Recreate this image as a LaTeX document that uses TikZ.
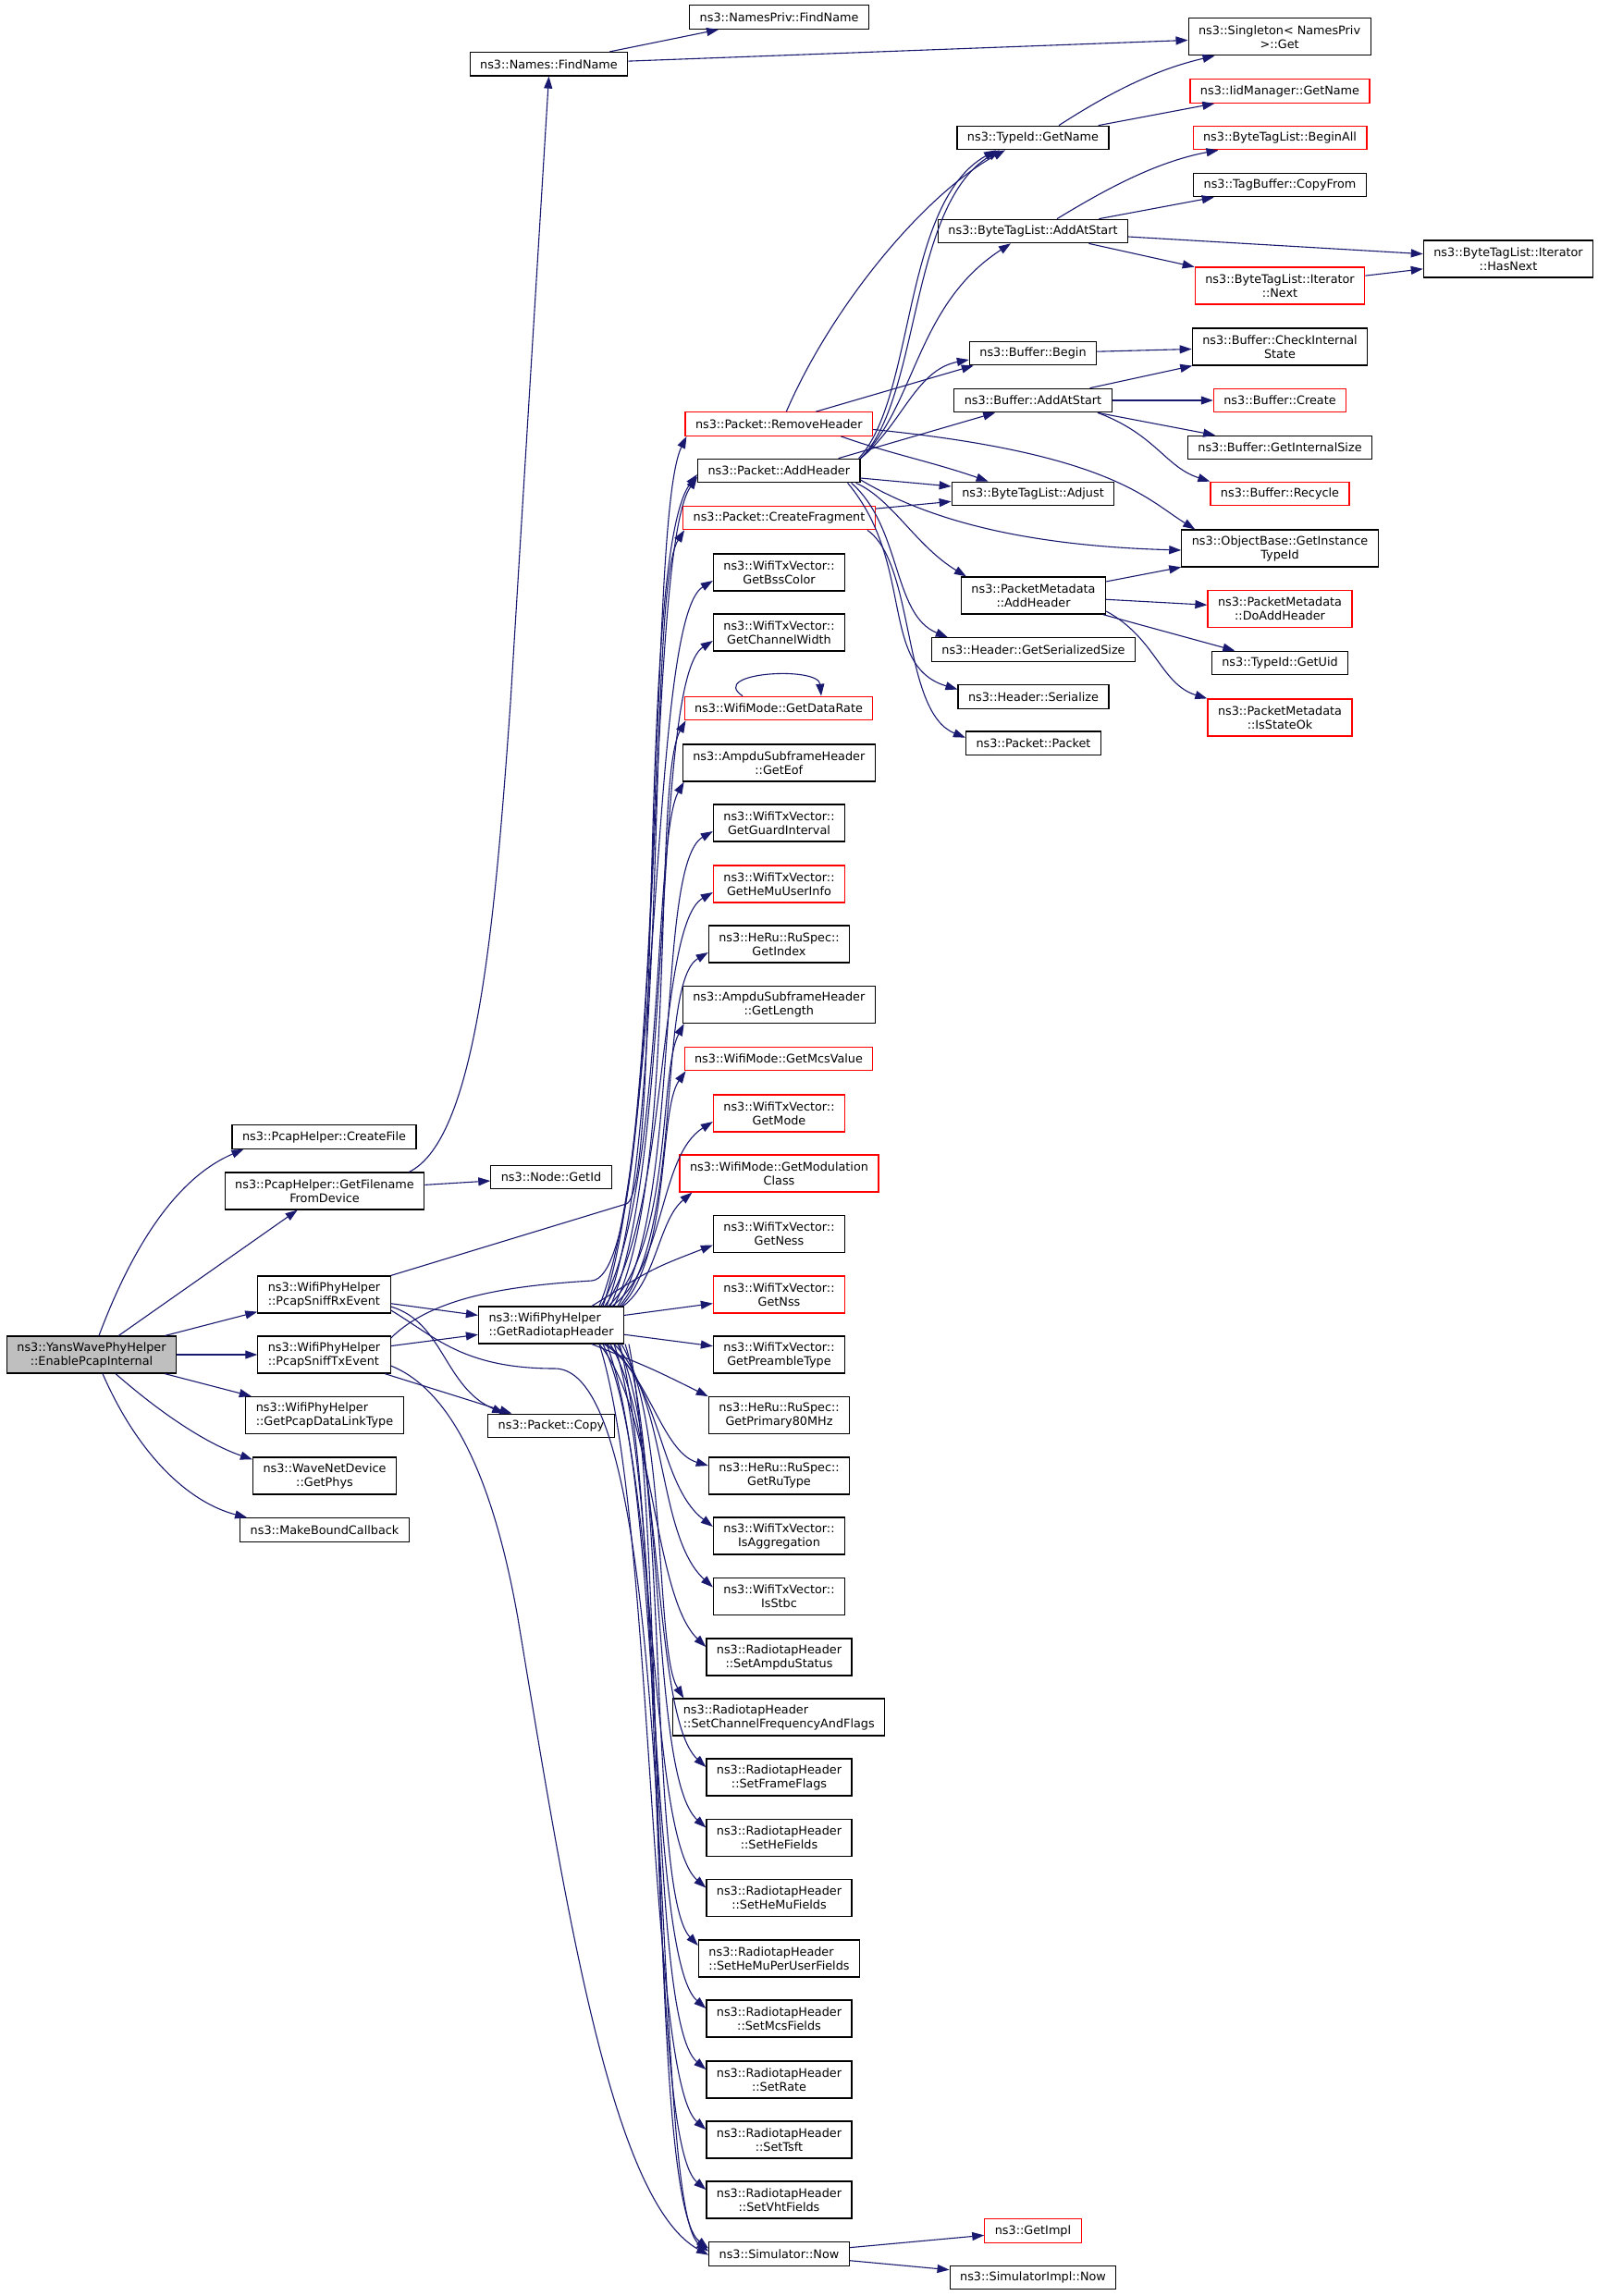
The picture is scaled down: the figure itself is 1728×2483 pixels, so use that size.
\documentclass[tikz,border=0pt]{standalone}
\usepackage{fontspec}
\setmainfont{DejaVu Sans}
\usepackage{tikz}
\usetikzlibrary{arrows.meta,calc}
\definecolor{edgeblue}{HTML}{191970}
\definecolor{rootgray}{HTML}{BFBFBF}

\begin{document}
\begin{tikzpicture}[x=1pt,y=-1pt,
	fn/.style={draw=black,line width=1.2pt,fill=white,inner xsep=11pt,inner ysep=0pt,
		minimum height=25.5pt,align=center,font=\fontsize{12.8}{15}\selectfont},
	fnred/.style={fn,draw=red},
	two/.style={minimum height=40pt},
	calls/.style={draw=edgeblue,line width=1.1pt,-{Triangle[length=13pt,width=9pt]}}]
	\useasboundingbox (0,0) rectangle (1728,2483);
	\fill[white] (0,0) rectangle (1728,2483);

	% caller and its direct callees
	\node[fn,two,fill=rootgray] (root) at (99,1465) {ns3::YansWavePhyHelper\\::EnablePcapInternal};
	\node[fn] (cfile) at (350.5,1229.5) {ns3::PcapHelper::CreateFile};
	\node[fn,two] (fdev) at (351,1288) {ns3::PcapHelper::GetFilename\\FromDevice};
	\node[fn,two,align=left] (rx) at (350.5,1400) {ns3::WifiPhyHelper\\::PcapSniffRxEvent};
	\node[fn,two,align=left] (tx) at (350.5,1465) {ns3::WifiPhyHelper\\::PcapSniffTxEvent};
	\node[fn,two,align=left] (dlt) at (351,1530.5) {ns3::WifiPhyHelper\\::GetPcapDataLinkType};
	\node[fn,two] (phys) at (351,1596) {ns3::WaveNetDevice\\::GetPhys};
	\node[fn] (mbc) at (351,1654.5) {ns3::MakeBoundCallback};

	\node[fn] (fname) at (593.5,69.3) {ns3::Names::FindName};
	\node[fn] (nid) at (596,1273) {ns3::Node::GetId};
	\node[fn,two,align=left] (grh) at (596,1433) {ns3::WifiPhyHelper\\::GetRadiotapHeader};
	\node[fn] (copy) at (596,1542) {ns3::Packet::Copy};

	% third column
	\node[fn] (npriv) at (842.6,18.6) {ns3::NamesPriv::FindName};
	\node[fnred] (rmh) at (842.3,458.5) {ns3::Packet::RemoveHeader};
	\node[fn] (addh) at (842.3,509) {ns3::Packet::AddHeader};
	\node[fnred] (cfr) at (842.5,560) {ns3::Packet::CreateFragment};
	\node[fn,two] (bss) at (842.5,619) {ns3::WifiTxVector::\\GetBssColor};
	\node[fn,two] (chw) at (842.5,684) {ns3::WifiTxVector::\\GetChannelWidth};
	\node[fnred] (drt) at (842,766) {ns3::WifiMode::GetDataRate};
	\node[fn,two] (eof) at (842.3,825) {ns3::AmpduSubframeHeader\\::GetEof};
	\node[fn,two] (gdi) at (842.5,890) {ns3::WifiTxVector::\\GetGuardInterval};
	\node[fnred,two] (hmu) at (842.5,956) {ns3::WifiTxVector::\\GetHeMuUserInfo};
	\node[fn,two] (idx) at (842.5,1021) {ns3::HeRu::RuSpec::\\GetIndex};
	\node[fn,two] (len) at (842.3,1086.5) {ns3::AmpduSubframeHeader\\::GetLength};
	\node[fnred] (mcs) at (842,1145) {ns3::WifiMode::GetMcsValue};
	\node[fnred,two] (mod) at (842.5,1204) {ns3::WifiTxVector::\\GetMode};
	\node[fnred,two] (mcl) at (842.5,1269) {ns3::WifiMode::GetModulation\\Class};
	\node[fn,two] (nes) at (842.5,1334.5) {ns3::WifiTxVector::\\GetNess};
	\node[fnred,two] (nss) at (842.5,1400) {ns3::WifiTxVector::\\GetNss};
	\node[fn,two] (pre) at (842.5,1465) {ns3::WifiTxVector::\\GetPreambleType};
	\node[fn,two] (p80) at (842.5,1530.7) {ns3::HeRu::RuSpec::\\GetPrimary80MHz};
	\node[fn,two] (ruT) at (842.5,1596) {ns3::HeRu::RuSpec::\\GetRuType};
	\node[fn,two] (agg) at (842.5,1661) {ns3::WifiTxVector::\\IsAggregation};
	\node[fn,two] (stb) at (842.5,1726.5) {ns3::WifiTxVector::\\IsStbc};
	\node[fn,two] (amp) at (842.5,1792) {ns3::RadiotapHeader\\::SetAmpduStatus};
	\node[fn,two,align=left] (chf) at (842.3,1857) {ns3::RadiotapHeader\\::SetChannelFrequencyAndFlags};
	\node[fn,two] (ffl) at (842.5,1922) {ns3::RadiotapHeader\\::SetFrameFlags};
	\node[fn,two] (hef) at (842.5,1987.5) {ns3::RadiotapHeader\\::SetHeFields};
	\node[fn,two] (hmf) at (842.5,2052.5) {ns3::RadiotapHeader\\::SetHeMuFields};
	\node[fn,two,align=left] (hpu) at (842.5,2118) {ns3::RadiotapHeader\\::SetHeMuPerUserFields};
	\node[fn,two] (mcf) at (842.5,2183) {ns3::RadiotapHeader\\::SetMcsFields};
	\node[fn,two] (rat) at (842.5,2249) {ns3::RadiotapHeader\\::SetRate};
	\node[fn,two] (tsf) at (842.5,2314) {ns3::RadiotapHeader\\::SetTsft};
	\node[fn,two] (vht) at (842.5,2379) {ns3::RadiotapHeader\\::SetVhtFields};
	\node[fn] (now) at (842.5,2437.6) {ns3::Simulator::Now};

	% fourth column
	\node[fn] (gname) at (1117,149) {ns3::TypeId::GetName};
	\node[fn] (adds) at (1117,250) {ns3::ByteTagList::AddAtStart};
	\node[fn] (bbeg) at (1117,382) {ns3::Buffer::Begin};
	\node[fn] (badd) at (1117,433) {ns3::Buffer::AddAtStart};
	\node[fn] (adj) at (1117,534) {ns3::ByteTagList::Adjust};
	\node[fn,two] (pmadd) at (1117.5,644) {ns3::PacketMetadata\\::AddHeader};
	\node[fn] (gss) at (1117.5,702.5) {ns3::Header::GetSerializedSize};
	\node[fn] (hser) at (1117.5,753.5) {ns3::Header::Serialize};
	\node[fn] (pkt) at (1117.5,803.7) {ns3::Packet::Packet};
	\node[fnred] (impl) at (1117,2412.5) {ns3::GetImpl};
	\node[fn] (simpl) at (1117,2463) {ns3::SimulatorImpl::Now};

	% fifth and sixth column
	\node[fn,two] (sing) at (1383.6,39.8) {ns3::Singleton< NamesPriv\\ >::Get};
	\node[fnred] (iid) at (1384,98.6) {ns3::IidManager::GetName};
	\node[fnred] (ball) at (1384,149) {ns3::ByteTagList::BeginAll};
	\node[fn] (cpf) at (1384,200) {ns3::TagBuffer::CopyFrom};
	\node[fnred,two] (inext) at (1384,309) {ns3::ByteTagList::Iterator\\::Next};
	\node[fn,two] (check) at (1384,375) {ns3::Buffer::CheckInternal\\State};
	\node[fnred] (bcreate) at (1384,433) {ns3::Buffer::Create};
	\node[fn] (gisize) at (1384,484) {ns3::Buffer::GetInternalSize};
	\node[fnred] (recy) at (1384,534) {ns3::Buffer::Recycle};
	\node[fn,two] (gitid) at (1384,593) {ns3::ObjectBase::GetInstance\\TypeId};
	\node[fnred,two] (doadd) at (1384,658.5) {ns3::PacketMetadata\\::DoAddHeader};
	\node[fn] (uid) at (1384,717) {ns3::TypeId::GetUid};
	\node[fnred,two] (isok) at (1384,776) {ns3::PacketMetadata\\::IsStateOk};
	\node[fn,two] (hasn) at (1631,280) {ns3::ByteTagList::Iterator\\::HasNext};

	% calls of the caller
	\draw[calls] ([xshift=8pt]root.north) .. controls (150,1330) and (200,1270) .. ([xshift=13pt]cfile.south west);
	\draw[calls] (root) -- (fdev);
	\draw[calls] (root) -- (rx);
	\draw[calls] (root) -- (tx);
	\draw[calls] (root) -- (dlt);
	\draw[calls] ([xshift=26pt]root.south) .. controls (170,1525) and (220,1560) .. ([yshift=-3pt]phys.north west);
	\draw[calls] ([xshift=12pt]root.south) .. controls (150,1575) and (205,1625) .. ([xshift=8pt]mbc.north west);

	\draw[calls] (fdev) -- (nid);
	\draw[calls] ([xshift=-17pt]fdev.north east) .. controls (515,1232) and (535,1000) .. (552,760) -- (fname.south);
	\draw[calls] (fname) -- (npriv);
	\draw[calls] (fname) -- (sing);

	% sniff events
	\draw[calls] (rx) -- (grh);
	\draw[calls] (tx) -- (grh);
	\draw[calls] (tx) -- (copy);
	\draw[calls] ([yshift=-13pt]rx.east) .. controls (480,1430) and (480,1500) .. ([xshift=18pt]copy.north west);
	\draw[calls] (rx.north east) -- (677,1302) .. controls (717,1290) and (688,600) .. ([yshift=-4pt]addh.west);
	\draw[calls] ([yshift=18pt]tx.east) .. controls (470,1400) and (560,1390) .. (640,1385) .. controls (720,1378) and (695,600) .. ([yshift=-7pt]addh.west);
	\draw[calls] ([yshift=-17pt]rx.east) .. controls (470,1445) and (500,1480) .. (600,1480) .. controls (740,1480) and (700,2385) .. ([yshift=3pt]now.west);
	\draw[calls] ([yshift=-12pt]tx.east) .. controls (480,1500) and (530,1580) .. (560,1750) .. controls (610,2050) and (660,2380) .. ([yshift=-1pt]now.west);

	% radiotap header, upward bundle
	\foreach \tg/\ex/\ey/\dx/\ax/\ay/\bx/\by in {
		rmh.south west/2/0/56/722/1206/700/560,
		cfr.south west/2/0/60/726/1228/698/640,
		bss.west/0/-9/52/718/1240/702/670,
		chw.west/0/-9/64/730/1255/705/735,
		drt.south west/2/0/68/734/1274/705/845,
		eof.south west/2/0/54/720/1288/706/905,
		gdi.west/0/-9/72/738/1300/708/935,
		hmu.west/0/-9/58/724/1314/710/1000,
		idx.west/0/-9/74/740/1329/710/1063,
		len.south west/2/0/62/728/1345/712/1160,
		mcs.south west/2/0/76/725/1357/712/1200,
		mod.west/0/-9/66/720/1369/712/1250,
		mcl.south west/14/0/78/710/1385/712/1320}
		\draw[calls] ([xshift=\dx pt]grh.north) .. controls (\ax,\ay) and (\bx,\by) .. ([xshift=\ex pt,yshift=\ey pt]\tg);
	\draw[calls] ([xshift=44pt]grh.north) .. controls (705,1372) .. ([yshift=-12pt]nes.west);
	\draw[calls] (grh) -- (nss);
	\draw[calls] (grh) -- (pre);
	\draw[calls] ([xshift=44pt]grh.south) .. controls (705,1480) .. (p80.north west);
	% radiotap header, downward bundle
	\foreach \tg/\ex/\ey/\dx/\ax/\ay/\bx/\by in {
		ruT.west/0/11/57/700/1480/715/1570,
		agg.west/0/10/60/716/1497/712/1606,
		stb.west/0/10/68/722/1511/710/1661,
		amp.west/0/11/52/708/1525/706/1726,
		chf.north west/12/0/76/722/1537/708/1785,
		ffl.west/0/11/64/720/1554/704/1856,
		hef.west/0/11/72/722/1568/702/1921,
		hmf.west/0/11/56/712/1582/700/1986,
		hpu.west/0/14/80/722/1596/702/2049,
		mcf.west/0/11/60/716/1611/700/2117,
		rat.west/0/11/68/722/1626/698/2183,
		tsf.west/0/11/52/708/1640/700/2248,
		vht.west/0/11/74/722/1654/698/2313,
		now.west/0/6/84/722/1668/700/2380}
		\draw[calls] ([xshift=\dx pt]grh.south) .. controls (\ax,\ay) and (\bx,\by) .. ([xshift=\ex pt,yshift=\ey pt]\tg);
	\draw[calls] ([xshift=-39pt]drt.north) .. controls (765,727) and (885,720) .. ([xshift=46pt]drt.north);

	% packet calls
	\draw[calls] ([xshift=8pt]rmh.north) .. controls (900,330) and (1000,210) .. ([xshift=-30pt]gname.south);
	\draw[calls] ([xshift=-2pt]addh.north east) .. controls (990,430) and (975,220) .. ([xshift=-40pt]gname.south);
	\draw[calls] (addh.north east) .. controls (996,432) and (982,222) .. ([xshift=-36pt]gname.south);
	\draw[calls] (addh.north east) .. controls (990,440) and (990,330) .. ([xshift=-24pt]adds.south);
	\draw[calls] (addh.north east) .. controls (975,460) and (990,400) .. ([yshift=-7pt]bbeg.west);
	\draw[calls] ([xshift=40pt]rmh.north) -- ([xshift=5pt]bbeg.south west);
	\draw[calls] ([xshift=-24pt]addh.north east) -- ([xshift=45pt]badd.south west);
	\draw[calls] (addh) -- (adj);
	\draw[calls] ([xshift=67pt]rmh.south) .. controls (960,490) and (1010,500) .. ([xshift=40pt]adj.north west);
	\draw[calls] (cfr) -- (adj);
	\draw[calls] ([yshift=-6pt]rmh.east) .. controls (1200,490) and (1240,540) .. ([xshift=15pt]gitid.north west);
	\draw[calls] ([yshift=-10pt]addh.east) .. controls (1000,560) and (1100,590) .. ([yshift=-2pt]gitid.west);
	\draw[calls] ([xshift=-5pt]addh.south east) .. controls (965,540) and (990,590) .. ([xshift=6pt]pmadd.north west);
	\draw[calls] ([xshift=-10pt]addh.south east) .. controls (975,570) and (965,665) .. ([xshift=18pt]gss.north west);
	\draw[calls] ([xshift=-14pt]addh.south east) .. controls (990,610) and (950,720) .. ([yshift=8pt]hser.west);
	\draw[calls] ([xshift=-9pt]cfr.south east) .. controls (990,610) and (975,770) .. ([yshift=6pt]pkt.west);

	% deeper calls
	\draw[calls] ([xshift=28pt]gname.north) .. controls (1200,100) and (1250,75) .. ([xshift=29pt]sing.south west);
	\draw[calls] (gname) -- (iid);
	\draw[calls] ([xshift=26pt]adds.north) .. controls (1195,205) and (1250,175) .. ([xshift=28pt]ball.south west);
	\draw[calls] (adds) -- (cpf);
	\draw[calls] (adds) -- (hasn);
	\draw[calls] (adds) -- (inext);
	\draw[calls] (inext) -- (hasn);
	\draw[calls] (bbeg) -- (check);
	\draw[calls] (badd) -- (check);
	\draw[calls] (badd) -- (bcreate);
	\draw[calls] (badd) -- (gisize);
	\draw[calls] ([xshift=70pt]badd.south) .. controls (1250,470) and (1260,505) .. (recy.north west);
	\draw[calls] (pmadd) -- (gitid);
	\draw[calls] (pmadd) -- (doadd);
	\draw[calls] (pmadd) -- (uid);
	\draw[calls] ([yshift=-17pt]pmadd.east) .. controls (1250,690) and (1255,740) .. (isok.north west);
	\draw[calls] (now) -- (impl);
	\draw[calls] (now) -- (simpl);
\end{tikzpicture}
\end{document}
